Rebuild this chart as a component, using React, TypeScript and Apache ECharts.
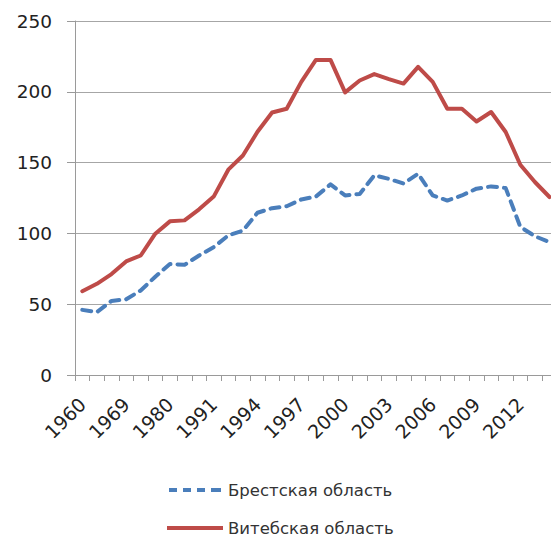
import React, { useEffect, useRef } from "react";
import * as echarts from "echarts";

const categories = [
  "1960", "1965", "1967", "1969", "1970", "1975", "1980", "1985", "1990",
  "1991", "1992", "1993", "1994", "1995", "1996", "1997", "1998", "1999",
  "2000", "2001", "2002", "2003", "2004", "2005", "2006", "2007", "2008",
  "2009", "2010", "2011", "2012", "2013", "2014",
];

const brest = [
  46, 44.4, 52.3, 53.4, 59.7, 69.4, 78.4, 77.8, 84.4, 90.3, 98.6, 102, 114.6,
  117.8, 119.2, 124, 126, 134.6, 126.8, 127.8, 141, 138.5, 135.2, 142.2, 126.8,
  123.2, 126.8, 131.6, 133.2, 132, 104.6, 98, 93.9,
];

const vitebsk = [
  59.2, 64.4, 71.3, 80.2, 84.4, 99.8, 108.5, 109.2, 117, 126, 145, 155, 171.8,
  185.4, 188, 207, 222.5, 222.5, 199.6, 208, 212.5, 209, 205.8, 217.6, 207,
  188, 188, 179, 185.7, 171.6, 148.5, 136.3, 125.7,
];

const seriesNames = ["Брестская область", "Витебская область"];

const FONT = "DejaVu Sans";

const dashedIcon =
  "path://M2,0h8v4h-8z M16,0h8v4h-8z M30,0h8v4h-8z M44,0h10v4h-10z";
const solidIcon = "path://M0,0h56v4h-56z";

export default function App() {
  const ref = useRef<HTMLDivElement>(null);
  useEffect(() => {
    if (!ref.current) return;
    const chart = echarts.init(ref.current, null, { renderer: "svg" });
    chart.setOption({
      animation: false,
      backgroundColor: "#ffffff",
      grid: { left: 75, top: 21, width: 481.8, height: 354, containLabel: false },
      legend: {
        orient: "vertical",
        left: 167,
        top: 480,
        padding: 0,
        itemWidth: 56,
        itemHeight: 4,
        itemGap: 18,
        textStyle: { fontFamily: FONT, fontSize: 16.5, color: "#333333", lineHeight: 20 },
        data: [
          { name: seriesNames[0], icon: dashedIcon },
          { name: seriesNames[1], icon: solidIcon },
        ],
      },
      xAxis: {
        type: "category",
        data: categories,
        boundaryGap: true,
        axisLine: { lineStyle: { color: "#9a9a9a", width: 1 } },
        axisTick: { show: true, interval: 0, length: 6, lineStyle: { color: "#9a9a9a" } },
        axisLabel: {
          interval: 2,
          rotate: 45,
          margin: 26,
          fontFamily: FONT,
          fontSize: 19,
          color: "#222222",
        },
        splitLine: { show: false },
      },
      yAxis: {
        type: "value",
        min: 0,
        max: 250,
        interval: 50,
        axisLine: { show: true, lineStyle: { color: "#9a9a9a", width: 1 } },
        axisTick: { show: true, length: 8, inside: false, lineStyle: { color: "#9a9a9a" } },
        axisLabel: {
          margin: 23,
          fontFamily: FONT,
          fontSize: 18.5,
          color: "#222222",
        },
        splitLine: { show: true, lineStyle: { color: "#a6a6a6", width: 1 } },
      },
      series: [
        {
          name: seriesNames[0],
          type: "line",
          data: brest,
          symbol: "none",
          showSymbol: false,
          smooth: false,
          color: "#4a7ebb",
          lineStyle: {
            color: "#4a7ebb",
            width: 4,
            type: [9, 7],
            cap: "round",
            join: "round",
          },
        },
        {
          name: seriesNames[1],
          type: "line",
          data: vitebsk,
          symbol: "none",
          showSymbol: false,
          smooth: false,
          color: "#be4b48",
          lineStyle: { color: "#be4b48", width: 4, cap: "round", join: "round" },
        },
      ],
    });
    return () => chart.dispose();
  }, []);
  return (
    <div
      style={{
        position: "fixed",
        left: 0,
        top: 0,
        width: 551,
        height: 538,
        overflow: "hidden",
        background: "#fff",
      }}
    >
      <div ref={ref} style={{ width: 572, height: 538 }} />
    </div>
  );
}
